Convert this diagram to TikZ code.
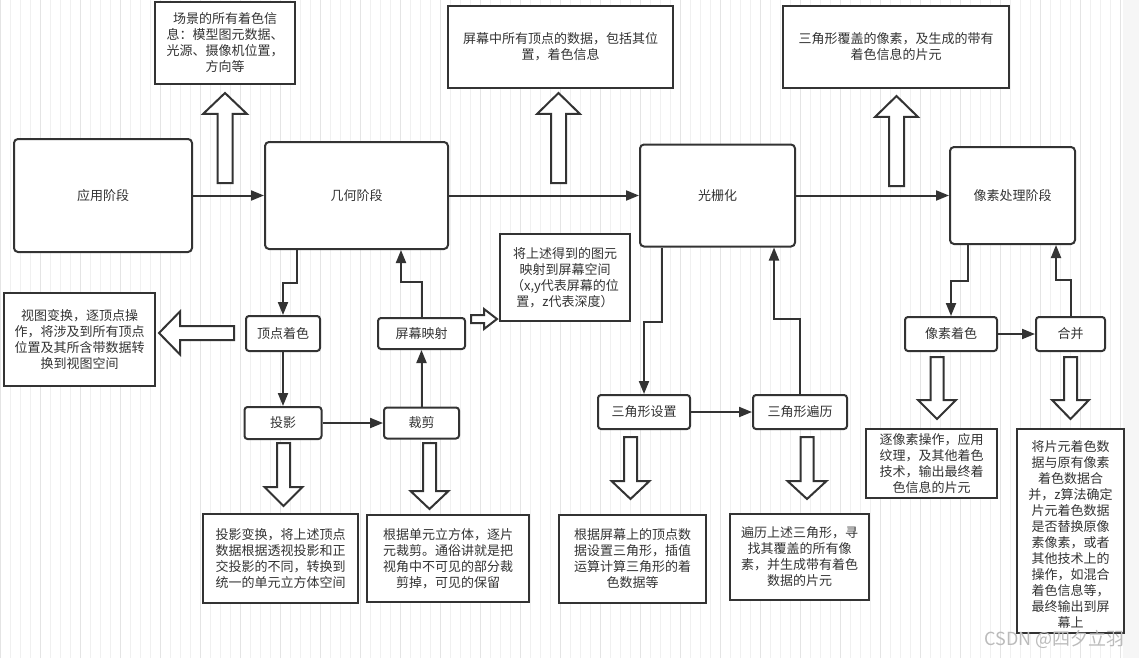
\documentclass[tikz,border=0pt]{standalone}
\usepackage{fontspec}
\setmainfont{Noto Sans CJK SC}
\usetikzlibrary{arrows.meta}
\definecolor{ink}{HTML}{333333}
\definecolor{gridminor}{HTML}{F0F0F0}
\definecolor{gridmajor}{HTML}{E4E4E4}
\definecolor{wmark}{HTML}{BBBBBB}
% vertical hollow arrow: cx, shaft half, head half, tail y, head-base y, tip y
\newcommand{\vhollow}[6]{\draw[hollow] ({#1-#2},#4) -- ({#1-#2},#5) -- ({#1-#3},#5) -- (#1,#6) -- ({#1+#3},#5) -- ({#1+#2},#5) -- ({#1+#2},#4) -- cycle;}
% horizontal hollow arrow: cy, shaft half, head half, tail x, head-base x, tip x
\newcommand{\hhollow}[6]{\draw[hollow] (#4,{#1-#2}) -- (#5,{#1-#2}) -- (#5,{#1-#3}) -- (#6,#1) -- (#5,{#1+#3}) -- (#5,{#1+#2}) -- (#4,{#1+#2}) -- cycle;}
\tikzset{
  txt/.style={text=ink, font=\fontsize{13pt}{16pt}\selectfont, align=center, inner sep=0pt},
  stage/.style={txt, draw=ink, line width=2pt, rounded corners=4pt, fill=white},
  smallbox/.style={txt, draw=ink, line width=2pt, rounded corners=3pt, fill=white},
  note/.style={txt, draw=ink, line width=2pt, fill=white},
  conn/.style={draw=ink, line width=2pt, -{Triangle[length=13pt,width=10pt]}},
  hollow/.style={draw=ink, line width=2pt, fill=white, line join=miter},
}
\begin{document}
\begin{tikzpicture}[x=1pt,y=-1pt]
\useasboundingbox (0,0) rectangle (1139,658);
\fill[white] (0,0) rectangle (1139,658);
% grid background
\draw[gridminor, line width=0.8pt, step=10] (0,0) grid (1123,658);
\draw[gridmajor, line width=0.8pt, step=40] (0,0) grid (1123,658);
\fill[gray!7] (1123,0) rectangle (1139,658);

% hollow arrows
\vhollow{225}{7.5}{22}{183}{114}{93}
\vhollow{558.5}{7.5}{21.5}{183}{114}{93}
\vhollow{896.5}{7.5}{21.5}{186}{117}{96}
\hhollow{333}{7}{21.5}{234}{180}{159}
\hhollow{319}{4}{10}{471}{484}{497}
\vhollow{283.5}{6.5}{19}{443}{487}{506}
\vhollow{429.5}{6.5}{19}{443}{491}{509}
\vhollow{630.5}{6.5}{19}{437}{481}{499}
\vhollow{807}{6.5}{19.5}{437}{481}{499}
\vhollow{937}{6.5}{19}{357}{400}{419}
\vhollow{1070.5}{6.5}{18.5}{357}{400}{419}

% stage boxes
\node[stage, minimum width=178pt, minimum height=113pt] (app) at (103,195.5) {应用阶段};
\node[stage, minimum width=183pt, minimum height=107pt] (geo) at (356.5,195.5) {几何阶段};
\node[stage, minimum width=155pt, minimum height=102pt] (ras) at (717.5,195.5) {光栅化};
\node[stage, minimum width=125pt, minimum height=97pt] (pix) at (1012.5,195.5) {像素处理阶段};

% sub-step boxes
\node[smallbox, minimum width=74pt, minimum height=35pt] (vs) at (283,333.5) {顶点着色};
\node[smallbox, minimum width=87pt, minimum height=31pt] (map) at (421.5,333.5) {屏幕映射};
\node[smallbox, minimum width=77pt, minimum height=32pt] (proj) at (283,423) {投影};
\node[smallbox, minimum width=75pt, minimum height=31pt] (clip) at (421.5,423) {裁剪};
\node[smallbox, minimum width=92pt, minimum height=34pt] (tset) at (644,412) {三角形设置};
\node[smallbox, minimum width=94pt, minimum height=34pt] (ttrav) at (800,412) {三角形遍历};
\node[smallbox, minimum width=92pt, minimum height=34pt] (pshade) at (951,334) {像素着色};
\node[smallbox, minimum width=69pt, minimum height=34pt] (merge) at (1070.5,334) {合并};

% note boxes
\node[note, minimum width=140pt, minimum height=82pt] (nA) at (225,43) {场景的所有着色信\\息：模型图元数据、\\光源、摄像机位置，\\方向等};
\node[note, minimum width=225pt, minimum height=82pt] (nB) at (560.5,47) {屏幕中所有顶点的数据，包括其位\\置，着色信息};
\node[note, minimum width=226pt, minimum height=82pt] (nC) at (896,47) {三角形覆盖的像素，及生成的带有\\着色信息的片元};
\node[note, minimum width=151pt, minimum height=93pt] (nview) at (79.5,339.5) {视图变换，逐顶点操\\作，将涉及到所有顶点\\位置及其所含带数据转\\换到视图空间};
\node[note, minimum width=130pt, minimum height=87pt] (nmap) at (565,277.5) {将上述得到的图元\\映射到屏幕空间\\（x,y代表屏幕的位\\置，z代表深度）};
\node[note, minimum width=155pt, minimum height=89pt] (nproj) at (280.5,558.5) {投影变换，将上述顶点\\数据根据透视投影和正\\交投影的不同，转换到\\统一的单元立方体空间};
\node[note, minimum width=162pt, minimum height=87pt] (nclip) at (448,558.5) {根据单元立方体，逐片\\元裁剪。通俗讲就是把\\视角中不可见的部分裁\\剪掉，可见的保留};
\node[note, minimum width=147pt, minimum height=88pt] (nset) at (632.5,559) {根据屏幕上的顶点数\\据设置三角形，插值\\运算计算三角形的着\\色数据等};
\node[note, minimum width=139pt, minimum height=86pt] (ntrav) at (799.5,557) {遍历上述三角形，寻\\找其覆盖的所有像\\素，并生成带有着色\\数据的片元};
\node[note, minimum width=131pt, minimum height=69pt] (nshade) at (931.5,463.5) {逐像素操作，应用\\纹理，及其他着色\\技术，输出最终着\\色信息的片元};
\node[note, minimum width=107pt, minimum height=204pt] (nmerge) at (1070.5,531) {};
\node[txt] (tmerge) at (1070.5,535) {将片元着色数\\据与原有像素\\着色数据合\\并，z算法确定\\片元着色数据\\是否替换原像\\素像素，或者\\其他技术上的\\操作，如混合\\着色信息等，\\最终输出到屏\\幕上};

% connectors
\draw[conn] (app.east) -- (app.east -| geo.west);
\draw[conn] (geo.east) -- (geo.east -| ras.west);
\draw[conn] (ras.east) -- (ras.east -| pix.west);
\draw[conn] ([xshift=33pt]geo.south west) -- ++(0,33) -| (vs.north);
\draw[conn] (vs.south) -- (vs.south |- proj.north);
\draw[conn] (proj.east) -- (proj.east -| clip.west);
\draw[conn] (clip.north) -- (clip.north |- map.south);
\draw[conn] (map.north) -- ++(0,-35) -| ([xshift=137pt]geo.south west);
\draw[conn] ([xshift=23pt]ras.south west) -- ++(0,74) -| (tset.north);
\draw[conn] (tset.east) -- (tset.east -| ttrav.west);
\draw[conn] (ttrav.north) -- ++(0,-75) -| ([xshift=135pt]ras.south west);
\draw[conn] ([xshift=19pt]pix.south west) -- ++(0,36) -| (pshade.north);
\draw[conn] (pshade.east) -- (pshade.east -| merge.west);
\draw[conn] (merge.north) -- ++(0,-36) -| ([xshift=107pt]pix.south west);

% watermark
\node[text=wmark, font=\fontsize{18pt}{20pt}\selectfont, anchor=east, inner sep=0pt] (wm) at (1125,639) {CSDN @四夕立羽};
\end{tikzpicture}
\end{document}
